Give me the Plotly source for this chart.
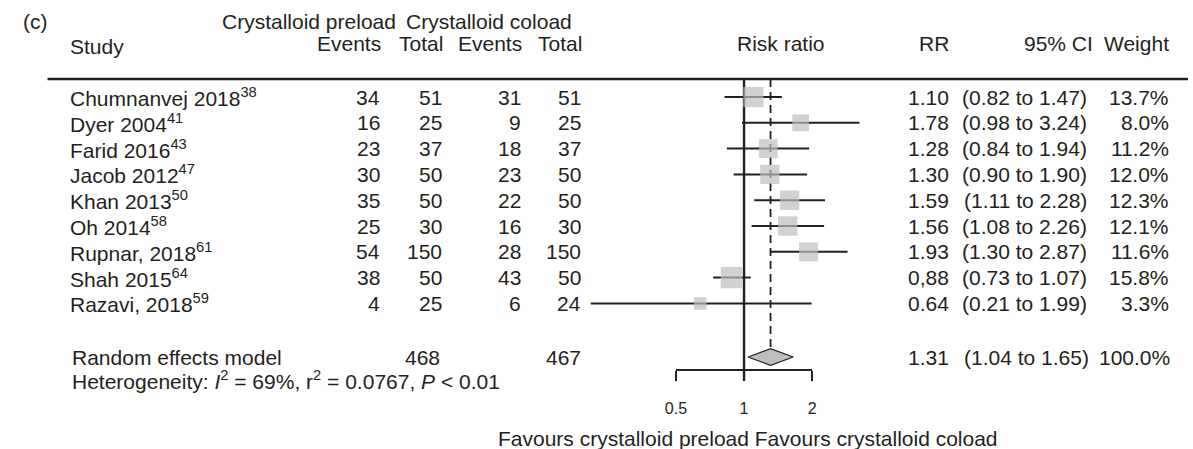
import math
import plotly.graph_objects as go

# ---------------- data ----------------
studies = ["Chumnanvej 2018", "Dyer 2004", "Farid 2016", "Jacob 2012", "Khan 2013",
           "Oh 2014", "Rupnar, 2018", "Shah 2015", "Razavi, 2018"]
refs = ["38", "41", "43", "47", "50", "58", "61", "64", "59"]
pre_events = [34, 16, 23, 30, 35, 25, 54, 38, 4]
pre_total = [51, 25, 37, 50, 50, 30, 150, 50, 25]
co_events = [31, 9, 18, 23, 22, 16, 28, 43, 6]
co_total = [51, 25, 37, 50, 50, 30, 150, 50, 24]
rr = [1.10, 1.78, 1.28, 1.30, 1.59, 1.56, 1.93, 0.88, 0.64]
rr_labels = ["1.10", "1.78", "1.28", "1.30", "1.59", "1.56", "1.93", "0,88", "0.64"]
ci_low = [0.82, 0.98, 0.84, 0.90, 1.11, 1.08, 1.30, 0.73, 0.21]
ci_high = [1.47, 3.24, 1.94, 1.90, 2.28, 2.26, 2.87, 1.07, 1.99]
weights = [13.7, 8.0, 11.2, 12.0, 12.3, 12.1, 11.6, 15.8, 3.3]

pooled_rr = 1.31
pooled_low = 1.04
pooled_high = 1.65
pooled_pre_total = 468
pooled_co_total = 467
pooled_weight = 100.0
het_i2 = 69
het_tau2 = 0.0767
het_p = "&lt; 0.01"

tick_vals = [0.5, 1, 2]
tick_text = ["0.5", "1", "2"]

# ---------------- layout constants (pixels) ----------------
W, H = 1193, 449
INK = "#231F20"
BOX = "#BCBEC0"
FONT = "Liberation Sans, Arial, sans-serif"
FS = 21

ROW0, ROW_STEP = 97, 25.8
row_y = [ROW0 + i * ROW_STEP for i in range(len(studies))]
SUM_Y = 357
HET_Y = 380
RULE_Y = 79
AXIS_Y = 370
TICK_END = 381
FAV_Y = 438
HDR1_Y, HDR2_Y = 21, 43

AX_PX0, AX_PX1 = 674, 812          # pixel positions of axis ends (0.5 and 2)
ppd = (AX_PX1 - AX_PX0) / (math.log10(tick_vals[-1]) - math.log10(tick_vals[0]))
x_lo = math.log10(tick_vals[0]) - AX_PX0 / ppd
x_hi = math.log10(tick_vals[-1]) + (W - AX_PX1) / ppd


def px(x):
    return x / W


fig = go.Figure()

# reference line at 1 (no effect)
fig.add_trace(go.Scatter(x=[1, 1], y=[RULE_Y, TICK_END], mode="lines",
                         line=dict(color=INK, width=2.4), hoverinfo="skip", showlegend=False))
# pooled estimate dashed line
fig.add_trace(go.Scatter(x=[pooled_rr, pooled_rr], y=[RULE_Y, SUM_Y - 8.5], mode="lines",
                         line=dict(color=INK, width=1.8, dash="8px,5px"),
                         hoverinfo="skip", showlegend=False))

# confidence intervals
cx, cy = [], []
for lo, hi, y in zip(ci_low, ci_high, row_y):
    cx += [lo, hi, None]
    cy += [y, y, None]
fig.add_trace(go.Scatter(x=cx, y=cy, mode="lines", line=dict(color=INK, width=2),
                         hoverinfo="skip", showlegend=False))

# study boxes sized by weight
sizes = [5.1 + 4.08 * math.sqrt(w) for w in weights]
fig.add_trace(go.Scatter(x=rr, y=row_y, mode="markers",
                         marker=dict(symbol="square", size=sizes, color=BOX, line=dict(width=0)),
                         hoverinfo="skip", showlegend=False))

# pooled diamond
DH = 8.3
fig.add_trace(go.Scatter(x=[pooled_low, pooled_rr, pooled_high, pooled_rr, pooled_low],
                         y=[SUM_Y, SUM_Y - DH, SUM_Y, SUM_Y + DH, SUM_Y],
                         mode="lines", fill="toself", fillcolor=BOX,
                         line=dict(color=INK, width=1.2), hoverinfo="skip", showlegend=False))

# invisible trace for the visible x axis
fig.add_trace(go.Scatter(x=tick_vals, y=[AXIS_Y] * len(tick_vals), xaxis="x2", yaxis="y",
                         mode="markers", marker=dict(opacity=0), hoverinfo="skip", showlegend=False))

ann = []


def add(text, x, y, anchor, size=FS):
    ann.append(dict(text=text, x=px(x), y=y, xref="paper", yref="y", xanchor=anchor,
                    yanchor="middle", showarrow=False,
                    font=dict(family=FONT, size=size, color=INK)))


# headers
add("(c)", 10, HDR1_Y, "left")
add("Crystalloid preload", 392, HDR1_Y, "right")
add("Crystalloid coload", 398, HDR1_Y, "left")
add("Study", 58, HDR2_Y + 3, "left")
add("Events", 377, HDR2_Y, "right")
add("Total", 440, HDR2_Y, "right")
add("Events", 520, HDR2_Y, "right")
add("Total", 581, HDR2_Y, "right")
add("Risk ratio", 780, HDR2_Y, "center")
add("RR", 953, HDR2_Y, "right")
add("95% CI", 1099, HDR2_Y, "right")
add("Weight", 1176, HDR2_Y, "right")

# study rows
for i, y in enumerate(row_y):
    add(f"{studies[i]}<sup>{refs[i]}</sup>", 58, y, "left")
    add(str(pre_events[i]), 376, y, "right")
    add(str(pre_total[i]), 439, y, "right")
    add(str(co_events[i]), 519, y, "right")
    add(str(co_total[i]), 580, y, "right")
    add(rr_labels[i], 953, y, "right")
    add(f"({ci_low[i]:.2f} to {ci_high[i]:.2f})", 1093, y, "right")
    add(f"{weights[i]:.1f}%", 1176, y, "right")

# summary
add("Random effects model", 60, SUM_Y, "left")
add(str(pooled_pre_total), 437, SUM_Y, "right")
add(str(pooled_co_total), 580, SUM_Y, "right")
add(f"{pooled_rr:.2f}", 953, SUM_Y, "right")
add(f"({pooled_low:.2f} to {pooled_high:.2f})", 1095, SUM_Y, "right")
add(f"{pooled_weight:.1f}%", 1177, SUM_Y, "right")
add(f"Heterogeneity: <i>I</i><sup>2</sup> = {het_i2}%, r<sup>2</sup> = {het_tau2}, <i>P</i> {het_p}",
    60, HET_Y, "left")
add("Favours crystalloid preload Favours crystalloid coload", 747, FAV_Y, "center")

shapes = [dict(type="line", xref="paper", yref="y", x0=px(37), x1=1, y0=RULE_Y, y1=RULE_Y,
               line=dict(color=INK, width=2.6))]

fig.update_layout(
    width=W, height=H,
    margin=dict(l=0, r=0, t=0, b=0),
    paper_bgcolor="white", plot_bgcolor="rgba(0,0,0,0)",
    showlegend=False,
    xaxis=dict(type="log", range=[x_lo, x_hi], domain=[0, 1], visible=False, fixedrange=True),
    xaxis2=dict(type="log", range=[math.log10(tick_vals[0]), math.log10(tick_vals[-1])],
                domain=[px(AX_PX0), px(AX_PX1)], anchor="free",
                position=(H - AXIS_Y) / H,
                showline=True, linecolor=INK, linewidth=2,
                ticks="outside", ticklen=TICK_END - AXIS_Y - 1, tickwidth=2, tickcolor=INK,
                tickvals=tick_vals, ticktext=tick_text, ticklabelstandoff=14,
                tickfont=dict(family=FONT, size=16, color=INK),
                showgrid=False, zeroline=False, fixedrange=True),
    yaxis=dict(range=[H, 0], domain=[0, 1], visible=False, fixedrange=True),
    annotations=ann,
    shapes=shapes,
)

fig.write_html("out.html",
               config={"displayModeBar": False, "staticPlot": True},
               post_script="document.body.style.margin='0';document.body.style.overflow='hidden';")
